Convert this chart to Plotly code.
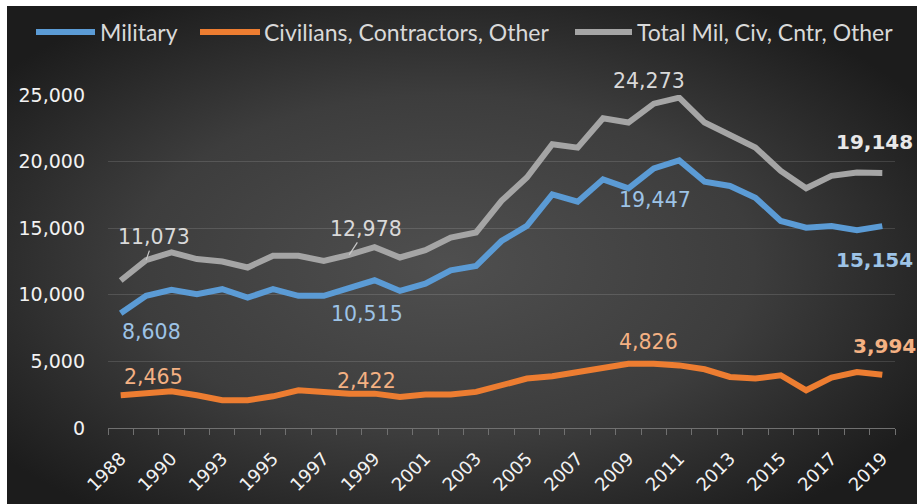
import base64
import plotly.graph_objects as go

# ---------------- data ----------------
years = [1988, 1989, 1990, 1991, 1993, 1994, 1995, 1996, 1997, 1998, 1999,
         2000, 2001, 2002, 2003, 2004, 2005, 2006, 2007, 2008, 2009, 2010,
         2011, 2012, 2013, 2014, 2015, 2016, 2017, 2018, 2019]
military = [8608, 9920, 10370, 10050, 10420, 9790, 10420, 9920, 9920, 10540, 11090,
            10290, 10840, 11840, 12170, 14040, 15170, 17540, 16990, 18670, 17990, 19490,
            20090, 18490, 18170, 17290, 15540, 15040, 15170, 14840, 15154]
civilians = [2465, 2585, 2760, 2460, 2080, 2080, 2380, 2830, 2710, 2580, 2580,
             2330, 2510, 2510, 2710, 3200, 3710, 3880, 4200, 4580, 4826, 4830,
             4700, 4410, 3830, 3710, 3960, 2830, 3780, 4200, 3994]
total = [11073, 12600, 13180, 12680, 12500, 12050, 12930, 12930, 12550, 13000, 13580,
         12800, 13350, 14300, 14680, 17050, 18800, 21300, 21050, 23250, 22930, 24350,
         24800, 22930, 22000, 21050, 19300, 18000, 18930, 19180, 19148]
series_names = ["Military", "Civilians, Contractors, Other", "Total Mil, Civ, Cntr, Other"]
y_ticks = [0, 5000, 10000, 15000, 20000, 25000]

cats = [str(y) for y in years]
tick_text = [c if i % 2 == 0 else "" for i, c in enumerate(cats)]

BLUE, ORANGE, GREY = "#5b9bd5", "#ed7d31", "#a5a5a5"
LBLUE, LORANGE, LGREY = "#9dc3e6", "#f4b183", "#d9d9d9"

W, H = 917, 504
L, R, T, B = 108, 22, 95, 76
PW, PH = W - L - R, H - T - B
BG_X0, BG_Y0 = 7, 6  # white frame around the dark chart area


def px_x(x):
    return (x - L) / PW


def px_y(y):
    return (H - B - y) / PH


fig = go.Figure()
for vals, name, col in [(military, series_names[0], BLUE),
                        (civilians, series_names[1], ORANGE),
                        (total, series_names[2], GREY)]:
    fig.add_trace(go.Scatter(x=cats, y=vals, mode="lines", name=name,
                             line=dict(color=col, width=6), showlegend=False,
                             cliponaxis=False))

# background radial gradient via svg image
bw, bh = W - BG_X0, H - BG_Y0
svg = (f'<svg xmlns="http://www.w3.org/2000/svg" width="{bw}" height="{bh}" '
       f'viewBox="0 0 {bw} {bh}" preserveAspectRatio="none"><defs>'
       '<radialGradient id="g" cx="48%" cy="52%" r="62%">'
       '<stop offset="0" stop-color="#4f4f4f"/><stop offset="0.55" stop-color="#3d3d3d"/>'
       '<stop offset="1" stop-color="#1c1c1c"/></radialGradient></defs>'
       f'<rect width="{bw}" height="{bh}" fill="url(#g)"/></svg>')
src = "data:image/svg+xml;base64," + base64.b64encode(svg.encode()).decode()
fig.add_layout_image(dict(source=src, xref="paper", yref="paper",
                          x=px_x(BG_X0), y=px_y(BG_Y0), sizex=bw / PW, sizey=bh / PH,
                          xanchor="left", yanchor="top", sizing="stretch", layer="below"))

# manual legend
legend_items = [(series_names[0], BLUE, 36, 95, 98),
                (series_names[1], ORANGE, 200, 260, 262),
                (series_names[2], GREY, 575, 632, 635)]
shapes = []
annotations = []
for name, col, x0, x1, tx in legend_items:
    shapes.append(dict(type="line", xref="paper", yref="paper",
                       x0=px_x(x0), x1=px_x(x1), y0=px_y(32), y1=px_y(32),
                       line=dict(color=col, width=6)))
    annotations.append(dict(xref="paper", yref="paper", x=px_x(tx), y=px_y(32),
                            text=name, showarrow=False, xanchor="left", yanchor="middle",
                            font=dict(family="Lato", size=23, color=LGREY)))

lab_font = "DejaVu Sans"


def lab(text, vals, idx, col, xs, ys, bold=False):
    annotations.append(dict(x=idx, y=vals[idx], text=text, showarrow=False,
                            xshift=xs, yshift=ys, xanchor="center", yanchor="middle",
                            font=dict(family=lab_font, size=20 if bold else 20.5, color=col,
                                      weight="bold" if bold else "normal")))


def lab_arrow(text, vals, idx, col, ax, ay):
    annotations.append(dict(x=idx, y=vals[idx], text=text, showarrow=True,
                            ax=ax, ay=ay, arrowhead=0, arrowwidth=1.2, arrowcolor="#c8c8c8",
                            standoff=0, startstandoff=0,
                            font=dict(family=lab_font, size=20.5, color=col)))


lab_arrow(f"{total[0]:,}", total, 1, LGREY, 8, -23)
lab(f"{military[0]:,}", military, 0, LBLUE, 31, -19)
lab(f"{civilians[0]:,}", civilians, 0, LORANGE, 33, 18)
lab_arrow("12,978", total, 9, LGREY, 17, -26)
lab("10,515", military, 10, LBLUE, -8, -34)
lab("2,422", civilians, 10, LORANGE, -8, 13)
lab("24,273", total, 21, LGREY, -5, 23)
lab("19,447", military, 21, LBLUE, 1, -32)
lab("4,826", civilians, 21, LORANGE, -5, 22)
lab(f"{total[-1]:,}", total, 30, "#e8e8e8", -8, 31, True)
lab(f"{military[-1]:,}", military, 30, LBLUE, -8, -34, True)
lab(f"{civilians[-1]:,}", civilians, 30, LORANGE, 2, 29, True)

fig.update_layout(
    width=W, height=H,
    margin=dict(l=L, r=R, t=T, b=B, pad=0, autoexpand=False),
    paper_bgcolor="white", plot_bgcolor="rgba(0,0,0,0)",
    shapes=shapes, annotations=annotations,
    xaxis=dict(type="category", range=[-0.5, len(cats) - 0.5],
               tickmode="array", tickvals=cats, ticktext=tick_text,
               tickangle=-45, ticks="outside", tickson="boundaries",
               ticklen=6, tickcolor="#707070", showline=True, linecolor="#707070",
               linewidth=1, showgrid=False, zeroline=False, ticklabelstandoff=12,
               automargin=False,
               tickfont=dict(family="DejaVu Sans", size=18, color="#f2f2f2")),
    yaxis=dict(range=[0, 25000], tickvals=y_ticks, tickformat=",",
               showgrid=True, gridcolor="rgba(255,255,255,0.13)", gridwidth=1,
               zeroline=False, showline=False, ticks="", ticklabelstandoff=22,
               automargin=False,
               tickfont=dict(family="DejaVu Sans", size=19, color="#f2f2f2")),
)

fig.write_html("out.html",
               config={"displayModeBar": False},
               post_script="document.body.style.margin='0';"
                           "document.documentElement.style.overflow='hidden';"
                           "document.body.style.overflow='hidden';")
